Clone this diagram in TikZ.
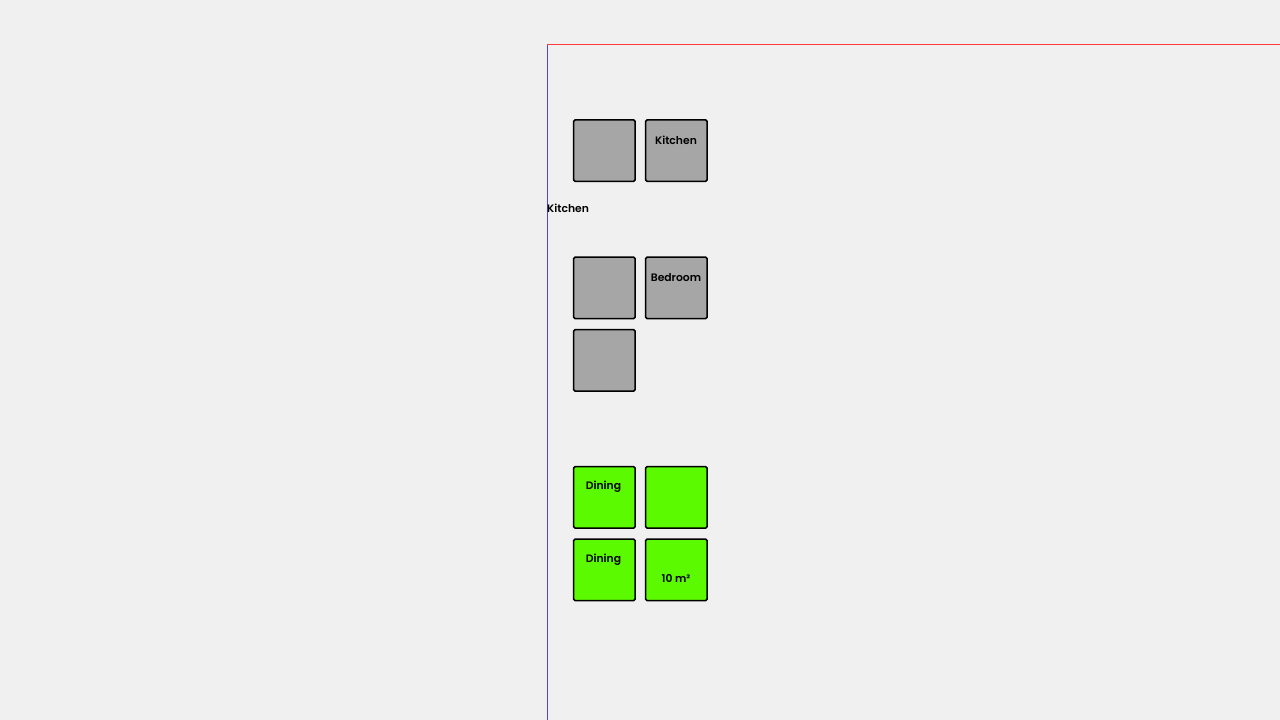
\documentclass[tikz,border=0pt]{standalone}
\usepackage{fontspec}
\setmainfont{Poppins}[BoldFont={Poppins SemiBold}]
\definecolor{bg}{HTML}{F0F0F0}
\definecolor{roomgrey}{HTML}{A6A6A6}
\definecolor{roomgreen}{HTML}{5CFA00}
\definecolor{axisred}{RGB}{255,59,59}
\definecolor{axisblue}{RGB}{70,70,255}
\begin{document}
\begin{tikzpicture}[x=1pt,y=-1pt,
  room/.style={draw=black,line width=1.6pt,rounded corners=1.5pt,minimum width=61.5pt,minimum height=61.5pt,inner sep=0pt,anchor=north west},
  greyroom/.style={room,fill=roomgrey},
  greenroom/.style={room,fill=roomgreen},
  lbl/.style={font=\fontsize{10.8}{12}\selectfont\bfseries,inner sep=0pt}]
\useasboundingbox[fill=bg] (0,0) rectangle (1280,720);
\coordinate (rl) at (547,44);
\coordinate (rr) at (1280,45.4);
\coordinate (bb) at (548.4,720);
\fill[axisblue] (rl) rectangle (bb);
\fill[axisred] (rl) rectangle (rr);
% kitchen group
\node[greyroom] (k1) at (572.8,119) {};
\node[greyroom] (k2) at (644.8,119) {};
\node[lbl] (k2t) at (676,140) {Kitchen};
\node[lbl,anchor=west] (kl) at (547,208.5) {Kitchen};
% bedroom group
\node[greyroom] (b1) at (572.8,256.3) {};
\node[greyroom] (b2) at (644.8,256.3) {};
\node[greyroom] (b3) at (572.8,328.8) {};
\node[lbl] (b2t) at (676,277.5) {Bedroom};
% dining group
\node[greenroom] (d1) at (572.8,465.8) {};
\node[greenroom] (d2) at (644.8,465.8) {};
\node[greenroom] (d3) at (572.8,538.3) {};
\node[greenroom] (d4) at (644.8,538.3) {};
\node[lbl] (d1t) at (603.5,487) {Dining};
\node[lbl] (d3t) at (603.5,560) {Dining};
\node[lbl] (d4t) at (676,578.5) {10 m²};
\end{tikzpicture}
\end{document}
